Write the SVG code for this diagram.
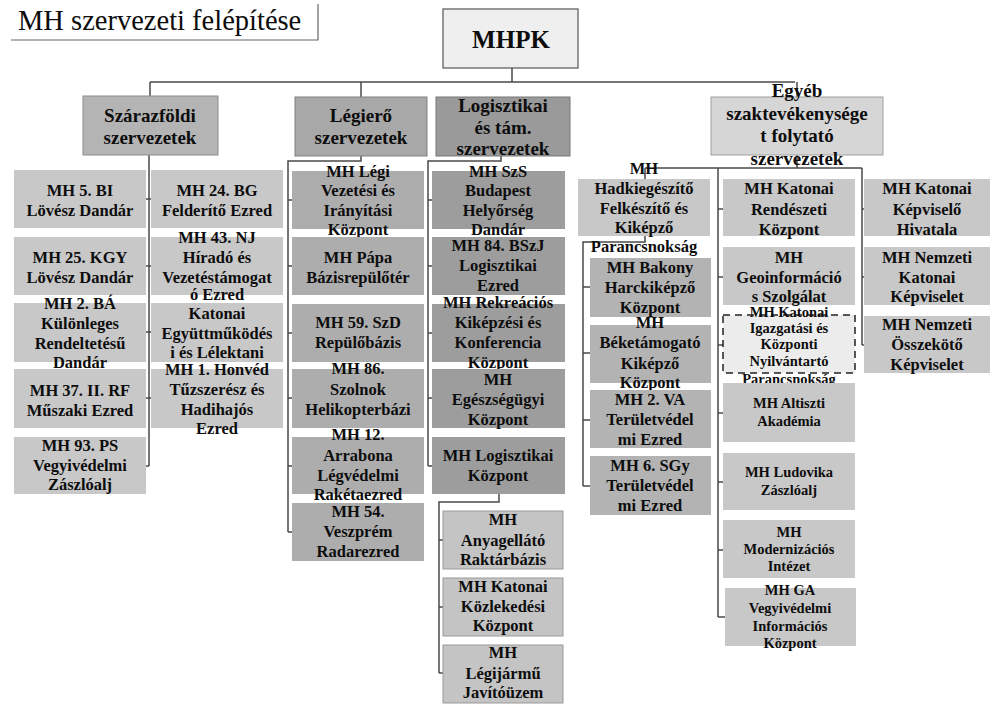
<svg xmlns="http://www.w3.org/2000/svg" width="994" height="704" viewBox="0 0 994 704">
<style>
text{font-family:'Liberation Serif','Times New Roman',serif;font-weight:bold;fill:#0d0d0d;text-anchor:middle}
.t2{font-size:19px}
.t3{font-size:16.5px}
.ts{font-size:14.5px}
.title{font-size:28.5px;font-weight:normal;text-anchor:start}
.top{font-size:25px}
.c{fill:none;stroke:#4a4a4a;stroke-width:1.5}
.l2a{fill:#b4b4b4;stroke:#8c8c8c}
.l2b{fill:#a8a8a8;stroke:#808080}
.l2c{fill:#9a9a9a;stroke:#777}
.l2d{fill:#d6d6d6;stroke:#a0a0a0}
.sz{fill:#c8c8c8}
.le{fill:#adadad}
.lo{fill:#9d9d9d}
.los{fill:#c4c4c4;stroke:#9a9a9a}
.hk{fill:#c8c8c8}
.hks{fill:#b3b3b3}
.eg{fill:#c8c8c8}
.dash{fill:#ececec;stroke:#222;stroke-width:1.5;stroke-dasharray:7 5}
</style>
<rect width="994" height="704" fill="#fff"/>
<g id="title">
<path d="M11 40H318V4" fill="none" stroke="#666" stroke-width="1.2"/>
<text class="title" x="18" y="30">MH szervezeti  felépítése</text>
</g>
<g id="connectors">
<path class="c" d="M512 68V82M150 82H795M150 82V96M361 82V97M797 82V97"/>
<path class="c" d="M149 155V466M146 199H151M146 266H151M146 332H151M146 398H151M146 466H149"/>
<path class="c" d="M361 156V161H288V532M288 200H292M288 266H292M288 333H292M288 398H292M288 466H292M288 532H292"/>
<path class="c" d="M501 156V161H428V466M428 200H432M428 266H432M428 333H432M428 398H432M428 466H432"/>
<path class="c" d="M499 494V502H439V673M439 540H443M439 607H443M439 673H443"/>
<path class="c" d="M797 155V168M645 168H862M645 168V179M718 168V617M862 168V345"/>
<path class="c" d="M718 209H723M718 277H723M718 345H723M718 413H723M718 482H723M718 550H723M718 617H725M862 209H864M862 277H864M862 345H864"/>
<path class="c" d="M645 236V242H583V486M583 287H590M583 353H590M583 420H590M583 486H590"/>
</g>
<g id="mhpk"><rect x="443" y="9" width="135" height="59" fill="#efefef" stroke="#555" stroke-width="1.2"/><text class="top" x="511" y="48">MHPK</text></g>
<g id="szarazfoldi"><rect class="l2a" x="83" y="96" width="135" height="59"/><text class="t2" x="150" y="122">Szárazföldi</text><text class="t2" x="150" y="144">szervezetek</text></g>
<g id="legiero"><rect class="l2b" x="295" y="97" width="132" height="59"/><text class="t2" x="361" y="122">Légierő</text><text class="t2" x="361" y="144">szervezetek</text></g>
<g id="logisztikai"><rect class="l2c" x="436" y="97" width="134" height="59"/><text class="t2" x="503" y="112">Logisztikai</text><text class="t2" x="503" y="134">és tám.</text><text class="t2" x="503" y="155">szervezetek</text></g>
<g id="egyeb"><rect class="l2d" x="711" y="97" width="172" height="58"/><text class="t2" x="797" y="97">Egyéb</text><text class="t2" x="797" y="120">szaktevékenysége</text><text class="t2" x="797" y="142">t folytató</text><text class="t2" x="797" y="165">szervezetek</text></g>

<g id="n5bi"><rect class="sz" x="14" y="170" width="132" height="58"/><text class="t3" x="80" y="196">MH 5. BI</text><text class="t3" x="80" y="216">Lövész Dandár</text></g>
<g id="n25kgy"><rect class="sz" x="14" y="237" width="132" height="58"/><text class="t3" x="80" y="263">MH 25. KGY</text><text class="t3" x="80" y="283">Lövész Dandár</text></g>
<g id="n2ba"><rect class="sz" x="14" y="303" width="132" height="59"/><text class="t3" x="80" y="309">MH 2. BÁ</text><text class="t3" x="80" y="329">Különleges</text><text class="t3" x="80" y="349">Rendeltetésű</text><text class="t3" x="80" y="368">Dandár</text></g>
<g id="n37rf"><rect class="sz" x="14" y="369" width="132" height="59"/><text class="t3" x="80" y="396">MH 37. II. RF</text><text class="t3" x="80" y="416">Műszaki Ezred</text></g>
<g id="n93ps"><rect class="sz" x="14" y="437" width="132" height="57"/><text class="t3" x="80" y="451">MH 93. PS</text><text class="t3" x="80" y="471">Vegyivédelmi</text><text class="t3" x="80" y="490">Zászlóalj</text></g>
<g id="n24bg"><rect class="sz" x="151" y="170" width="132" height="58"/><text class="t3" x="217" y="196">MH 24. BG</text><text class="t3" x="217" y="216">Felderítő Ezred</text></g>
<g id="n43nj"><rect class="sz" x="151" y="237" width="132" height="58"/><text class="t3" x="217" y="243">MH 43. NJ</text><text class="t3" x="217" y="263">Híradó és</text><text class="t3" x="217" y="283">Vezetéstámogat</text><text class="t3" x="217" y="300">ó Ezred</text></g>
<g id="nkat"><rect class="sz" x="151" y="303" width="132" height="59"/><text class="t3" x="217" y="319">Katonai</text><text class="t3" x="217" y="339">Együttműködés</text><text class="t3" x="217" y="358">i és Lélektani</text></g>
<g id="n1hon"><rect class="sz" x="151" y="369" width="132" height="59"/><text class="t3" x="217" y="375">MH 1. Honvéd</text><text class="t3" x="217" y="395">Tűzszerész és</text><text class="t3" x="217" y="415">Hadihajós</text><text class="t3" x="217" y="434">Ezred</text></g>

<g id="nlegi"><rect class="le" x="292" y="171" width="132" height="58"/><text class="t3" x="358" y="177">MH Légi</text><text class="t3" x="358" y="196">Vezetési és</text><text class="t3" x="358" y="216">Irányítási</text><text class="t3" x="358" y="235">Központ</text></g>
<g id="npapa"><rect class="le" x="292" y="237" width="132" height="58"/><text class="t3" x="358" y="263">MH Pápa</text><text class="t3" x="358" y="283">Bázisrepülőtér</text></g>
<g id="n59szd"><rect class="le" x="292" y="304" width="132" height="58"/><text class="t3" x="358" y="328">MH 59. SzD</text><text class="t3" x="358" y="348">Repülőbázis</text></g>
<g id="n86"><rect class="le" x="292" y="369" width="132" height="59"/><text class="t3" x="358" y="374">MH 86.</text><text class="t3" x="358" y="395">Szolnok</text><text class="t3" x="358" y="415">Helikopterbázi</text></g>
<g id="n12"><rect class="le" x="292" y="437" width="132" height="57"/><text class="t3" x="358" y="440">MH 12.</text><text class="t3" x="358" y="461">Arrabona</text><text class="t3" x="358" y="481">Légvédelmi</text><text class="t3" x="358" y="500">Rakétaezred</text></g>
<g id="n54"><rect class="le" x="292" y="503" width="132" height="58"/><text class="t3" x="358" y="517">MH 54.</text><text class="t3" x="358" y="537">Veszprém</text><text class="t3" x="358" y="557">Radarezred</text></g>

<g id="nszs"><rect class="lo" x="432" y="171" width="133" height="58"/><text class="t3" x="498" y="177">MH SzS</text><text class="t3" x="498" y="196">Budapest</text><text class="t3" x="498" y="216">Helyőrség</text><text class="t3" x="498" y="235">Dandár</text></g>
<g id="n84"><rect class="lo" x="432" y="237" width="133" height="58"/><text class="t3" x="498" y="251">MH 84. BSzJ</text><text class="t3" x="498" y="271">Logisztikai</text><text class="t3" x="498" y="291">Ezred</text></g>
<g id="nrek"><rect class="lo" x="432" y="304" width="133" height="58"/><text class="t3" x="498" y="308">MH Rekreációs</text><text class="t3" x="498" y="328">Kiképzési és</text><text class="t3" x="498" y="348">Konferencia</text><text class="t3" x="498" y="368">Központ</text></g>
<g id="neu"><rect class="lo" x="432" y="369" width="133" height="59"/><text class="t3" x="498" y="385">MH</text><text class="t3" x="498" y="405">Egészségügyi</text><text class="t3" x="498" y="425">Központ</text></g>
<g id="nlogk"><rect class="lo" x="432" y="437" width="133" height="57"/><text class="t3" x="498" y="461">MH Logisztikai</text><text class="t3" x="498" y="481">Központ</text></g>

<g id="nany"><rect class="los" x="443" y="511" width="120" height="58"/><text class="t3" x="503" y="525">MH</text><text class="t3" x="503" y="546">Anyagellátó</text><text class="t3" x="503" y="565">Raktárbázis</text></g>
<g id="nkoz"><rect class="los" x="443" y="578" width="120" height="58"/><text class="t3" x="503" y="592">MH Katonai</text><text class="t3" x="503" y="612">Közlekedési</text><text class="t3" x="503" y="631">Központ</text></g>
<g id="njav"><rect class="los" x="443" y="645" width="120" height="58"/><text class="t3" x="503" y="658">MH</text><text class="t3" x="503" y="679">Légijármű</text><text class="t3" x="503" y="698">Javítóüzem</text></g>

<g id="nhad"><rect class="hk" x="578" y="179" width="132" height="57"/><text class="t3" x="644" y="174">MH</text><text class="t3" x="644" y="194">Hadkiegészítő</text><text class="t3" x="644" y="214">Felkészítő és</text><text class="t3" x="644" y="233">Kiképző</text><text class="t3" x="644" y="252">Parancsnokság</text></g>
<g id="nbak"><rect class="hks" x="590" y="258" width="121" height="59"/><text class="t3" x="650" y="273">MH Bakony</text><text class="t3" x="650" y="293">Harckiképző</text><text class="t3" x="650" y="313">Központ</text></g>
<g id="nbek"><rect class="hks" x="590" y="325" width="121" height="58"/><text class="t3" x="650" y="328">MH</text><text class="t3" x="650" y="348">Béketámogató</text><text class="t3" x="650" y="369">Kiképző</text><text class="t3" x="650" y="388">Központ</text></g>
<g id="n2va"><rect class="hks" x="590" y="390" width="121" height="58"/><text class="t3" x="650" y="405">MH 2. VA</text><text class="t3" x="650" y="425">Területvédel</text><text class="t3" x="650" y="445">mi Ezred</text></g>
<g id="n6sgy"><rect class="hks" x="590" y="456" width="121" height="59"/><text class="t3" x="650" y="471">MH 6. SGy</text><text class="t3" x="650" y="491">Területvédel</text><text class="t3" x="650" y="511">mi Ezred</text></g>

<g id="nrend"><rect class="eg" x="723" y="179" width="132" height="57"/><text class="t3" x="789" y="194">MH Katonai</text><text class="t3" x="789" y="215">Rendészeti</text><text class="t3" x="789" y="235">Központ</text></g>
<g id="ngeo"><rect class="eg" x="723" y="247" width="132" height="58"/><text class="t3" x="789" y="263">MH</text><text class="t3" x="789" y="283">Geoinformáció</text><text class="t3" x="789" y="302">s Szolgálat</text></g>
<g id="nigaz"><rect class="dash" x="723" y="315" width="132" height="58"/><text class="ts" x="789" y="317">MH Katonai</text><text class="ts" x="789" y="333">Igazgatási és</text><text class="ts" x="789" y="349">Központi</text><text class="ts" x="789" y="366">Nyilvántartó</text><text class="ts" x="789" y="384">Parancsnokság</text></g>
<g id="nalt"><rect class="eg" x="723" y="383" width="132" height="59"/><text class="ts" x="789" y="408">MH Altiszti</text><text class="ts" x="789" y="426">Akadémia</text></g>
<g id="nlud"><rect class="eg" x="723" y="453" width="132" height="57"/><text class="ts" x="789" y="477">MH Ludovika</text><text class="ts" x="789" y="495">Zászlóalj</text></g>
<g id="nmod"><rect class="eg" x="723" y="520" width="132" height="58"/><text class="ts" x="789" y="537">MH</text><text class="ts" x="789" y="554">Modernizációs</text><text class="ts" x="789" y="571">Intézet</text></g>
<g id="nga"><rect class="eg" x="725" y="588" width="131" height="58"/><text class="ts" x="790" y="595">MH GA</text><text class="ts" x="790" y="613">Vegyivédelmi</text><text class="ts" x="790" y="631">Információs</text><text class="ts" x="790" y="648">Központ</text></g>

<g id="nkepv"><rect class="eg" x="864" y="179" width="126" height="57"/><text class="t3" x="927" y="194">MH Katonai</text><text class="t3" x="927" y="215">Képviselő</text><text class="t3" x="927" y="235">Hivatala</text></g>
<g id="nnemz"><rect class="eg" x="864" y="247" width="126" height="58"/><text class="t3" x="927" y="263">MH Nemzeti</text><text class="t3" x="927" y="283">Katonai</text><text class="t3" x="927" y="302">Képviselet</text></g>
<g id="nossz"><rect class="eg" x="864" y="316" width="126" height="57"/><text class="t3" x="927" y="330">MH Nemzeti</text><text class="t3" x="927" y="350">Összekötő</text><text class="t3" x="927" y="370">Képviselet</text></g>
</svg>
